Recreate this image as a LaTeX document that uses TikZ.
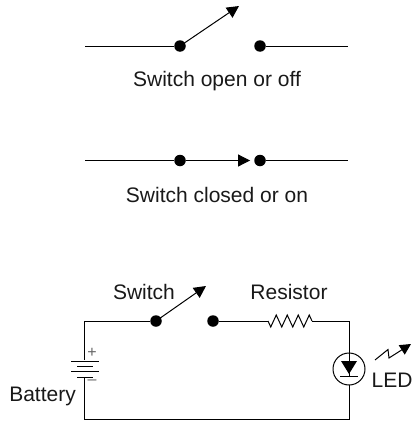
\documentclass[tikz,border=0pt]{standalone}
\usepackage{fontspec}
\setmainfont{Liberation Sans}
\usetikzlibrary{arrows.meta,decorations.pathmorphing}
\tikzset{
  contact/.style={circle, fill=black, inner sep=0pt, minimum size=11.5pt},
  wire/.style={line width=1pt},
  blade/.style={line width=1pt, -{Triangle[length=12pt,width=12pt]}},
  caption/.style={font=\fontsize{21}{24}\selectfont, inner sep=0pt, text=black!90},
  polarity/.style={font=\fontsize{16}{16}\selectfont, inner sep=0pt, text=black!60},
}
\begin{document}
\begin{tikzpicture}[x=1pt, y=-1pt]
        \useasboundingbox (0,0) rectangle (412,423);
        % open switch
        \coordinate (A1) at (85,46);
        \coordinate (A2) at (348,46);
        \coordinate (T1) at (239,6);
        \node[contact] (a) at (180,46) {};
        \node[contact] (b) at (260,46) {};
        \draw[wire] (A1) -- (a);
        \draw[wire] (b) -- (A2);
        \draw[blade] (a.center) -- (T1);
        \node[caption] (open) at (217,81) {Switch open or off};

        % closed switch
        \coordinate (B1) at (85,160.5);
        \coordinate (B2) at (348,160.5);
        \node[contact] (c) at (180,160.5) {};
        \node[contact] (d) at (260,160.5) {};
        \draw[wire] (B1) -- (c);
        \draw[wire] (d) -- (B2);
        \draw[blade, shorten >=4pt] (c) -- (d);
        \node[caption] (closed) at (217,195) {Switch closed or on};

        % circuit
        \coordinate (TL) at (84,321);
        \coordinate (TR) at (349,321);
        \coordinate (BL) at (84,419);
        \coordinate (BR) at (349,419);
        \coordinate (T2) at (206,286);
        \coordinate (R1) at (268,321);
        \coordinate (R2) at (312,321);
        \node[contact] (e) at (156,321) {};
        \node[contact] (f) at (213,321) {};
        \draw[wire] (e) -- (TL) -- (BL) -- (BR) -- (TR) -- (R2);
        \draw[wire] (f) -- (R1);
        \draw[wire, decorate, decoration={zigzag, segment length=11pt, amplitude=6pt, mirror}] (R1) -- (R2);
        \draw[blade] (e.center) -- (T2);
        \node[caption] (sw) at (144,292) {Switch};
        \node[caption] (res) at (289,292) {Resistor};
        \node[caption, anchor=east] (bat) at (76,396) {Battery};
        \node[caption] (ledtxt) at (392,380) {LED};

        % battery
        \node[fill=white, minimum width=34pt, minimum height=18pt, inner sep=0pt] (batt) at (84,369) {};
        \draw[wire] (71,361) -- (99,361) (71,371) -- (99,371);
        \draw[wire] (77,366) -- (93,366) (77,377) -- (93,377);
        \node[polarity] (plus) at (92,353) {+};
        \node[polarity] (minus) at (92,382.5) {--};

        % led
        \node[circle, draw, wire, fill=white, minimum size=32pt, inner sep=0pt] (led) at (349,369) {};
        \draw[wire] (349,353) -- (349,376);
        \fill (341,361) -- (357,361) -- (349,374) -- cycle;
        \draw[wire] (340,376) -- (358,376);
        \draw[line width=1pt, -{Triangle[length=11pt,width=11pt]}] (375,360) -- (388,349.5) -- (389,358) -- (411,344);
\end{tikzpicture}
\end{document}
